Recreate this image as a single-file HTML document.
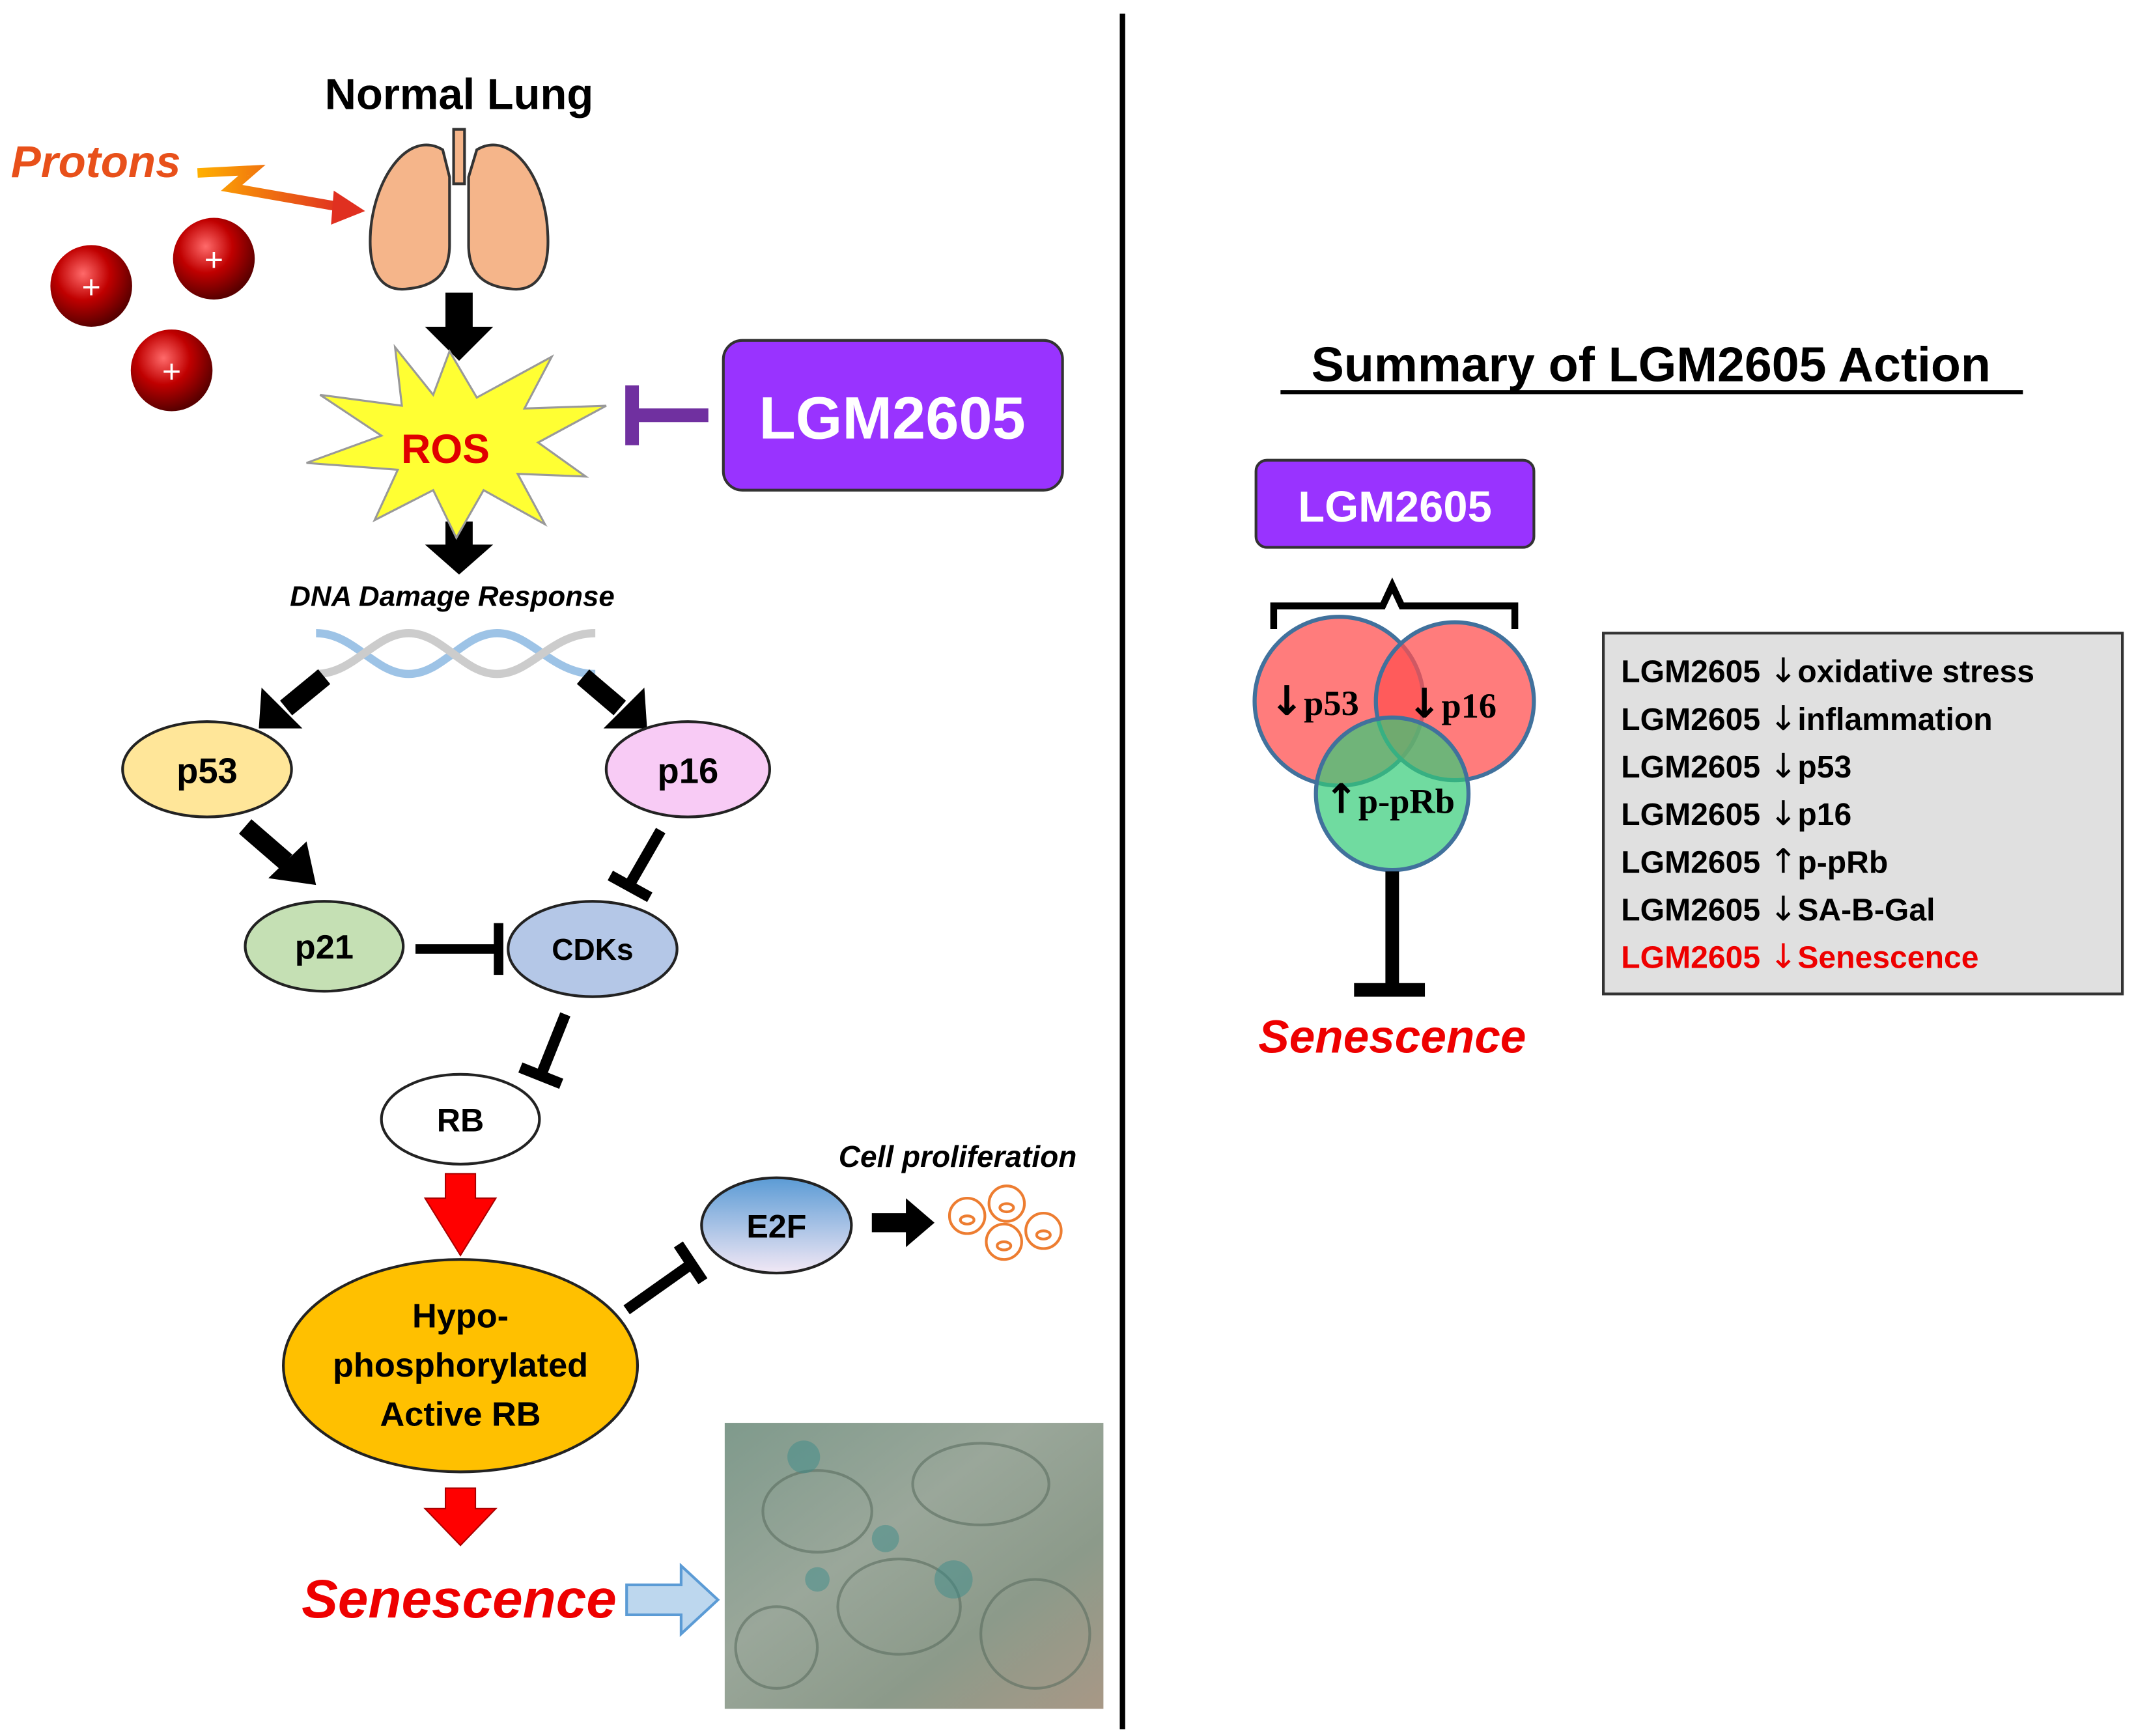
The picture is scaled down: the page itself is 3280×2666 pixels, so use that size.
<!DOCTYPE html>
<html><head><meta charset="utf-8"><style>html,body{margin:0;padding:0;background:#fff}svg{display:block}</style></head>
<body>
<svg width="3280" height="2666" viewBox="0 0 1568 1275" preserveAspectRatio="none" xmlns="http://www.w3.org/2000/svg" font-family="Liberation Sans, sans-serif">
<defs>
<radialGradient id="ball" cx="40%" cy="35%" r="65%"><stop offset="0" stop-color="#ff6a6a"/><stop offset="0.5" stop-color="#c00000"/><stop offset="1" stop-color="#5a0000"/></radialGradient>
<linearGradient id="e2f" x1="0" y1="0" x2="0" y2="1"><stop offset="0" stop-color="#5b9bd5"/><stop offset="1" stop-color="#f2e8f5"/></linearGradient>
<linearGradient id="zig" x1="0" y1="0" x2="1" y2="0"><stop offset="0" stop-color="#ffb000"/><stop offset="1" stop-color="#e03020"/></linearGradient>
<linearGradient id="photo" x1="0" y1="0" x2="1" y2="1"><stop offset="0" stop-color="#7f9a8c"/><stop offset="0.4" stop-color="#9aa79a"/><stop offset="0.7" stop-color="#8c9a8a"/><stop offset="1" stop-color="#a89886"/></linearGradient>
</defs>
<rect width="1568" height="1275" fill="#fff"/>
<line x1="824" y1="10" x2="824" y2="1270" stroke="#000" stroke-width="4"/>

<text x="337" y="80" text-anchor="middle" font-size="32" font-weight="bold">Normal Lung</text>
<text x="8" y="130" font-size="33" font-weight="bold" font-style="italic" fill="#e8501a">Protons</text>
<polyline points="145,127 185,125 170,138 250,152" fill="none" stroke="url(#zig)" stroke-width="7"/>
<polygon points="245,140 268,155 243,165" fill="#e03020"/>
<g>
<circle cx="67" cy="210" r="30" fill="url(#ball)"/><text x="67" y="219" text-anchor="middle" font-size="24" fill="#fff">+</text>
<circle cx="157" cy="190" r="30" fill="url(#ball)"/><text x="157" y="199" text-anchor="middle" font-size="24" fill="#fff">+</text>
<circle cx="126" cy="272" r="30" fill="url(#ball)"/><text x="126" y="281" text-anchor="middle" font-size="24" fill="#fff">+</text>
</g>
<g fill="#f5b58a" stroke="#333" stroke-width="2">
<path d="M325,110 C300,95 275,130 272,170 C270,200 280,215 300,212 C320,210 330,200 330,180 L330,130 Z"/>
<path d="M350,110 C375,95 400,130 402,170 C404,200 394,215 374,212 C354,210 344,200 344,180 L344,130 Z"/>
</g>
<rect x="333" y="95" width="8" height="40" fill="#f5b58a" stroke="#333" stroke-width="2"/>
<polygon points="327,215 347,215 347,240 362,240 337,265 312,240 327,240" fill="#000"/>
<polygon points="327,383 347,383 347,400 362,400 337,422 312,400 327,400" fill="#000"/>
<polygon points="330,258 350,292 405,262 385,300 445,298 395,325 430,350 380,348 400,385 355,360 335,395 318,360 275,382 292,345 225,340 280,320 235,290 295,298 290,255 318,290" fill="#ffff33" stroke="#999" stroke-width="1.5"/>
<text x="327" y="340" text-anchor="middle" font-size="30" font-weight="bold" fill="#e00000">ROS</text>
<line x1="520" y1="305" x2="465" y2="305" stroke="#7030a0" stroke-width="10"/>
<line x1="464" y1="283" x2="464" y2="327" stroke="#7030a0" stroke-width="10"/>
<rect x="531" y="250" width="249" height="110" rx="14" fill="#9933ff" stroke="#333" stroke-width="2"/>
<text x="655" y="322" text-anchor="middle" font-size="44" font-weight="bold" fill="#fff">LGM2605</text>
<text x="332" y="445" text-anchor="middle" font-size="21" font-weight="bold" font-style="italic">DNA Damage Response</text>
<g stroke-width="6" fill="none">
<path d="M232,465 C260,465 275,495 300,495 C325,495 340,465 365,465 C390,465 405,495 437,495" stroke="#9dc3e6"/>
<path d="M232,495 C260,495 275,465 300,465 C325,465 340,495 365,495 C390,495 405,465 437,465" stroke="#ccc"/>
</g>
<line x1="238" y1="497" x2="210" y2="520" stroke="#000" stroke-width="14"/>
<polygon points="192,505 222,535 190,535" fill="#000"/>
<line x1="428" y1="497" x2="455" y2="520" stroke="#000" stroke-width="14"/>
<polygon points="473,505 443,535 475,535" fill="#000"/>
<ellipse cx="152" cy="565" rx="62" ry="35" fill="#ffe699" stroke="#222" stroke-width="2"/>
<text x="152" y="575" text-anchor="middle" font-size="26" font-weight="bold">p53</text>
<ellipse cx="505" cy="565" rx="60" ry="35" fill="#f8cbf5" stroke="#222" stroke-width="2"/>
<text x="505" y="575" text-anchor="middle" font-size="26" font-weight="bold">p16</text>
<line x1="180" y1="607" x2="210" y2="633" stroke="#000" stroke-width="14"/>
<polygon points="197,645 232,650 225,618" fill="#000"/>
<line x1="485" y1="610" x2="462" y2="650" stroke="#000" stroke-width="8"/>
<line x1="448" y1="643" x2="477" y2="659" stroke="#000" stroke-width="8"/>
<ellipse cx="238" cy="695" rx="58" ry="33" fill="#c5e0b4" stroke="#222" stroke-width="2"/>
<text x="238" y="704" text-anchor="middle" font-size="25" font-weight="bold">p21</text>
<ellipse cx="435" cy="697" rx="62" ry="35" fill="#b4c7e7" stroke="#222" stroke-width="2"/>
<text x="435" y="705" text-anchor="middle" font-size="22" font-weight="bold">CDKs</text>
<line x1="305" y1="697" x2="365" y2="697" stroke="#000" stroke-width="7"/>
<line x1="366" y1="678" x2="366" y2="716" stroke="#000" stroke-width="7"/>
<line x1="415" y1="745" x2="397" y2="790" stroke="#000" stroke-width="8"/>
<line x1="382" y1="784" x2="412" y2="796" stroke="#000" stroke-width="8"/>
<ellipse cx="338" cy="822" rx="58" ry="33" fill="#fff" stroke="#222" stroke-width="2"/>
<text x="338" y="831" text-anchor="middle" font-size="24" font-weight="bold">RB</text>
<polygon points="327,862 349,862 349,880 364,880 338,922 312,880 327,880" fill="#ff0000" stroke="#a00" stroke-width="1"/>
<ellipse cx="338" cy="1003" rx="130" ry="78" fill="#ffc000" stroke="#222" stroke-width="2"/>
<text x="338" y="975" text-anchor="middle" font-size="25" font-weight="bold">Hypo-</text>
<text x="338" y="1011" text-anchor="middle" font-size="25" font-weight="bold">phosphorylated</text>
<text x="338" y="1047" text-anchor="middle" font-size="25" font-weight="bold">Active RB</text>
<ellipse cx="570" cy="900" rx="55" ry="35" fill="url(#e2f)" stroke="#222" stroke-width="2"/>
<text x="570" y="909" text-anchor="middle" font-size="24" font-weight="bold">E2F</text>
<line x1="460" y1="962" x2="508" y2="928" stroke="#000" stroke-width="8"/>
<line x1="498" y1="914" x2="516" y2="941" stroke="#000" stroke-width="8"/>
<polygon points="640,891 665,891 665,880 686,898 665,916 665,905 640,905" fill="#000"/>
<text x="703" y="857" text-anchor="middle" font-size="22" font-weight="bold" font-style="italic">Cell proliferation</text>
<g fill="none" stroke="#ed7d31" stroke-width="2">
<circle cx="710" cy="893" r="13"/><ellipse cx="710" cy="896" rx="5" ry="3"/>
<circle cx="739" cy="884" r="13"/><ellipse cx="739" cy="887" rx="5" ry="3"/>
<circle cx="766" cy="904" r="13"/><ellipse cx="766" cy="907" rx="5" ry="3"/>
<circle cx="737" cy="912" r="13"/><ellipse cx="737" cy="915" rx="5" ry="3"/>
</g>
<polygon points="327,1093 349,1093 349,1108 364,1108 338,1135 312,1108 327,1108" fill="#ff0000" stroke="#a00" stroke-width="1"/>
<text x="337" y="1188" text-anchor="middle" font-size="40" font-weight="bold" font-style="italic" fill="#ee0000">Senescence</text>
<polygon points="460,1164 500,1164 500,1150 527,1175 500,1200 500,1186 460,1186" fill="#bdd7ee" stroke="#5b9bd5" stroke-width="2"/>
<rect x="532" y="1045" width="278" height="210" fill="url(#photo)"/>
<g fill="none" stroke="#5b6e60" stroke-width="2" opacity="0.6">
<ellipse cx="600" cy="1110" rx="40" ry="30"/><ellipse cx="720" cy="1090" rx="50" ry="30"/><ellipse cx="660" cy="1180" rx="45" ry="35"/><ellipse cx="760" cy="1200" rx="40" ry="40"/><ellipse cx="570" cy="1210" rx="30" ry="30"/>
</g>
<g fill="#3e8c8a" opacity="0.5"><circle cx="590" cy="1070" r="12"/><circle cx="650" cy="1130" r="10"/><circle cx="700" cy="1160" r="14"/><circle cx="600" cy="1160" r="9"/></g>

<text x="1212" y="280" text-anchor="middle" font-size="36" font-weight="bold">Summary of LGM2605 Action</text>
<line x1="940" y1="288" x2="1485" y2="288" stroke="#000" stroke-width="3"/>
<rect x="922" y="338" width="204" height="64" rx="8" fill="#9933ff" stroke="#333" stroke-width="2"/>
<text x="1024" y="383" text-anchor="middle" font-size="32" font-weight="bold" fill="#fff">LGM2605</text>
<path d="M935,462 L935,445 L1015,445 L1022,430 L1029,445 L1112,445 L1112,462" fill="none" stroke="#000" stroke-width="5"/>
<circle cx="983" cy="515" r="62" fill="#ff5050" fill-opacity="0.75" stroke="#41719c" stroke-width="3"/>
<circle cx="1068" cy="515" r="58" fill="#ff5050" fill-opacity="0.75" stroke="#41719c" stroke-width="3"/>
<circle cx="1022" cy="583" r="56" fill="#33cc77" fill-opacity="0.7" stroke="#41719c" stroke-width="3"/>
<g font-size="26" font-weight="bold" font-family="Liberation Serif, serif">
<text x="932" y="525"><tspan font-family="DejaVu Sans, sans-serif" font-size="30">↓</tspan>p53</text>
<text x="1033" y="527"><tspan font-family="DejaVu Sans, sans-serif" font-size="30">↓</tspan>p16</text>
<text x="972" y="597"><tspan font-family="DejaVu Sans, sans-serif" font-size="30">↑</tspan>p-pRb</text>
</g>
<line x1="1022" y1="640" x2="1022" y2="725" stroke="#000" stroke-width="10"/>
<line x1="994" y1="727" x2="1046" y2="727" stroke="#000" stroke-width="10"/>
<text x="1022" y="773" text-anchor="middle" font-size="34" font-weight="bold" font-style="italic" fill="#ee0000">Senescence</text>
<rect x="1177" y="465" width="381" height="265" fill="#e0e0e0" stroke="#333" stroke-width="2"/>
<g font-size="23" font-weight="bold">
<text x="1190" y="501">LGM2605 <tspan font-family="DejaVu Sans, sans-serif" font-weight="normal" font-size="25">↓</tspan>oxidative stress</text>
<text x="1190" y="536">LGM2605 <tspan font-family="DejaVu Sans, sans-serif" font-weight="normal" font-size="25">↓</tspan>inflammation</text>
<text x="1190" y="571">LGM2605 <tspan font-family="DejaVu Sans, sans-serif" font-weight="normal" font-size="25">↓</tspan>p53</text>
<text x="1190" y="606">LGM2605 <tspan font-family="DejaVu Sans, sans-serif" font-weight="normal" font-size="25">↓</tspan>p16</text>
<text x="1190" y="641">LGM2605 <tspan font-family="DejaVu Sans, sans-serif" font-weight="normal" font-size="25">↑</tspan>p-pRb</text>
<text x="1190" y="676">LGM2605 <tspan font-family="DejaVu Sans, sans-serif" font-weight="normal" font-size="25">↓</tspan>SA-B-Gal</text>
<text x="1190" y="711" fill="#ee0000">LGM2605 <tspan font-family="DejaVu Sans, sans-serif" font-weight="normal" font-size="25">↓</tspan>Senescence</text>
</g>
</svg>
</body></html>
